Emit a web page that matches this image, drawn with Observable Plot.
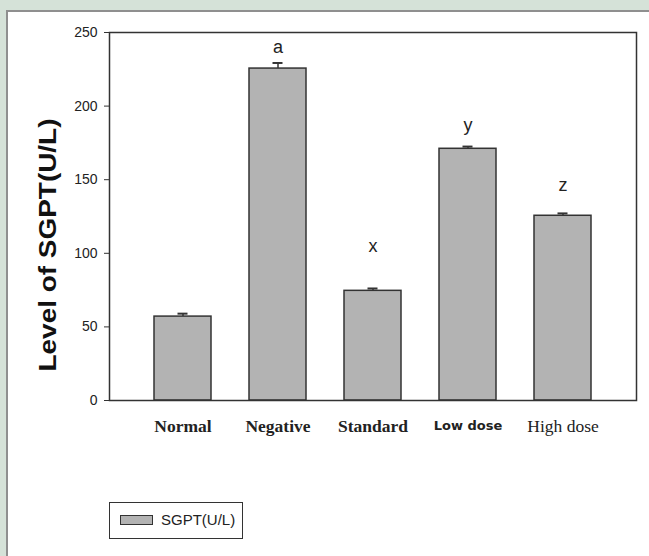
<!DOCTYPE html>
<html><head><meta charset="utf-8">
<script src="https://cdn.jsdelivr.net/npm/d3@7"></script>
<script src="https://cdn.jsdelivr.net/npm/@observablehq/plot@0.6"></script>
<style>
html,body{margin:0;padding:0;}
body{width:649px;height:556px;background:#d5e2d8;position:relative;overflow:hidden;font-family:Arial,"Liberation Sans",sans-serif;}
#panel{position:absolute;left:6px;top:10px;width:700px;height:600px;background:#fff;border-left:2px solid #8f8f8f;border-top:2px solid #8f8f8f;}
#chart{position:absolute;left:0;top:0;}
#legend{position:absolute;left:109px;top:502px;width:132px;height:35px;border:1.5px solid #333;background:#fff;}
#swatch{position:absolute;left:10px;top:12px;width:31px;height:8px;background:#b3b3b3;border:1.5px solid #333;}
#ltext{position:absolute;left:51px;top:8px;font-size:15px;color:#222;font-family:Arial,"Liberation Sans",sans-serif;}
</style>
</head><body>
<div id="panel"></div>
<div id="chart"></div>
<div id="legend"><div id="swatch"></div><div id="ltext"></div></div>
<script>
const categories = ["Normal", "Negative", "Standard", "Low dose", "High dose"];
const means = [57, 225.5, 74.5, 171, 125.5];
const errors = [2, 3.8, 1.6, 1.5, 1.6];
const letters = ["", "a", "x", "y", "z"];
const letterY = [null, 240, 105, 187, 146];
const yTicks = [0, 50, 100, 150, 200, 250];
const yLabel = "Level of SGPT(U/L)";
const seriesName = "SGPT(U/L)";

const data = categories.map((c, i) => ({cat: c, mean: means[i], top: means[i] + errors[i], letter: letters[i], ly: letterY[i]}));
const lettered = data.filter(d => d.letter);

const serifBold = categories.slice(0, 3);
const sansBold = categories.slice(3, 4);
const serifReg = categories.slice(4, 5);

const chart = Plot.plot({
  width: 649,
  height: 450,
  marginLeft: 109,
  marginRight: 13,
  marginTop: 32,
  marginBottom: 50,
  style: {background: "transparent", overflow: "visible"},
  x: {type: "band", domain: categories, paddingInner: 0.396, paddingOuter: 0.443},
  y: {domain: [0, 250]},
  marks: [
    Plot.barY(data, {x: "cat", y: "mean", fill: "#b3b3b3", stroke: "#333", strokeWidth: 1.5}),
    Plot.ruleX(data, {x: "cat", y1: "mean", y2: "top", stroke: "#333", strokeWidth: 1.5}),
    Plot.tickY(data, {x: "cat", y: "top", insetLeft: 23.5, insetRight: 23.5, stroke: "#333", strokeWidth: 2}),
    Plot.text(lettered, {x: "cat", y: "ly", text: "letter", fontSize: 18, fill: "#222", fontFamily: "Arial, 'Liberation Sans', sans-serif"}),
    Plot.frame({stroke: "#333", strokeWidth: 1.5}),
    Plot.axisY({ticks: yTicks, tickSize: 5, tickPadding: 7, fontSize: 14, label: null, stroke: "#333", color: "#222", fontFamily: "Arial, 'Liberation Sans', sans-serif"}),
    Plot.axisX(serifBold, {tickSize: 0, tickPadding: 19, fontSize: 17.5, fontWeight: "bold", label: null, fontFamily: "'Liberation Serif', 'DejaVu Serif', serif", color: "#222"}),
    Plot.axisX(sansBold, {tickSize: 0, tickPadding: 20, fontSize: 13, fontWeight: "bold", label: null, fontFamily: "'DejaVu Sans', sans-serif", color: "#222"}),
    Plot.axisX(serifReg, {tickSize: 0, tickPadding: 19, fontSize: 17.5, label: null, fontFamily: "'Liberation Serif', 'DejaVu Serif', serif", color: "#222"})
  ]
});
document.getElementById("chart").appendChild(chart);
d3.select(chart).append("text")
  .attr("transform", "translate(56,245) rotate(-90)")
  .attr("text-anchor", "middle")
  .attr("font-family", "Arial, 'Liberation Sans', sans-serif")
  .attr("font-size", 24)
  .attr("font-weight", "bold")
  .attr("fill", "#111")
  .attr("textLength", 253)
  .attr("lengthAdjust", "spacingAndGlyphs")
  .text(yLabel);
document.getElementById("ltext").textContent = seriesName;
</script>
</body></html>
